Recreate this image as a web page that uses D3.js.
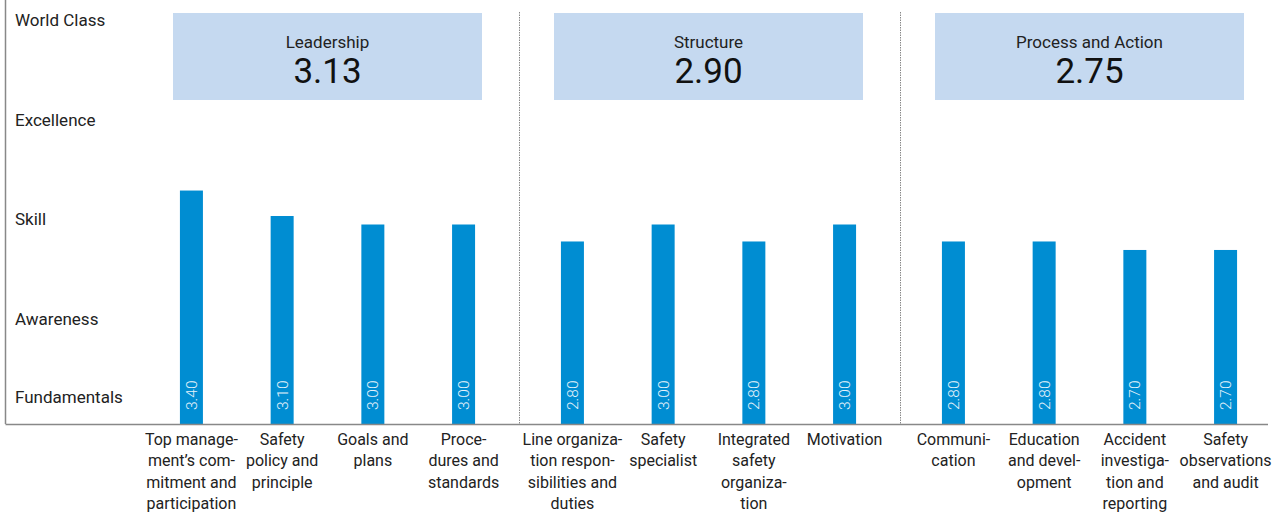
<!DOCTYPE html>
<html>
<head>
<meta charset="utf-8">
<title>Safety culture levels</title>
<script src="https://cdn.jsdelivr.net/npm/d3@7"></script>
<style>
  body { margin: 0; background: #fff; }
  text { font-family: Roboto, "Noto Sans", sans-serif; fill: #222; }
</style>
</head>
<body>
<script>
// levels shown on the left, top to bottom
var levels = ["World Class", "Excellence", "Skill", "Awareness", "Fundamentals"];

var groups = ["Leadership", "Structure", "Process and Action"];
var groupScores = [3.13, 2.90, 2.75];

var categories = [
    "Top management's commitment and participation", "Safety policy and principle",
    "Goals and plans", "Procedures and standards",
    "Line organization responsibilities and duties", "Safety specialist",
    "Integrated safety organization", "Motivation",
    "Communication", "Education and development",
    "Accident investigation and reporting", "Safety observations and audit"
];
var categoryGroup = [0, 0, 0, 0, 1, 1, 1, 1, 2, 2, 2, 2];
var values = [3.40, 3.10, 3.00, 3.00, 2.80, 3.00, 2.80, 3.00, 2.80, 2.80, 2.70, 2.70];

// tick labels, already broken in lines
var tickLabels = [
    ["Top manage-", "ment\u2019s com-", "mitment and", "participation"],
    ["Safety", "policy and", "principle"],
    ["Goals and", "plans"],
    ["Proce-", "dures and", "standards"],
    ["Line organiza-", "tion respon-", "sibilities and", "duties"],
    ["Safety", "specialist"],
    ["Integrated", "safety", "organiza-", "tion"],
    ["Motivation"],
    ["Communi-", "cation"],
    ["Education", "and devel-", "opment"],
    ["Accident", "investiga-", "tion and", "reporting"],
    ["Safety", "observations", "and audit"]
];

var width = 1282, height = 515;
var baseY = 424, axisX = 5.5, plotLeft = 137, plotRight = 1280;
var barWidth = 23;

var svg = d3.select('body').append('svg')
    .attr('width', width)
    .attr('height', height);

// bar value scale
var y = d3.scaleLinear().domain([0.65, 3.0]).range([baseY, 224.5]);
// positions of the level names
var levelY = d3.scalePoint().domain(levels).range([26, baseY]);

var xGroup = d3.scaleBand().domain(groups).range([plotLeft, plotRight]);
var xInner = d3.scalePoint().domain([0, 1, 2, 3]).range([0, xGroup.bandwidth()]).padding(0.6);

function barX(i) {
    var g = categoryGroup[i];
    var inGroup = categoryGroup.slice(0, i).filter(function(d) { return d === g; }).length;
    return xGroup(groups[g]) + xInner(inGroup);
}

// header boxes
var heads = svg.append('g').attr('class', 'heads')
    .selectAll('g').data(groups).enter().append('g');
heads.append('rect')
    .attr('x', function(d) { return xGroup(d) + 36; })
    .attr('y', 13)
    .attr('width', xGroup.bandwidth() - 72)
    .attr('height', 87)
    .attr('fill', '#c5d9f0');
heads.append('text')
    .attr('x', function(d) { return xGroup(d) + xGroup.bandwidth() / 2; })
    .attr('y', 48)
    .attr('text-anchor', 'middle')
    .style('font-size', '17px')
    .text(function(d) { return d; });
heads.append('text')
    .attr('x', function(d) { return xGroup(d) + xGroup.bandwidth() / 2; })
    .attr('y', 83)
    .attr('text-anchor', 'middle')
    .style('font-size', '35px')
    .style('fill', '#111')
    .text(function(d, i) { return groupScores[i].toFixed(2); });

// dotted dividers between groups
svg.append('g').selectAll('line').data(groups.slice(1)).enter().append('line')
    .attr('x1', function(d) { return Math.round(xGroup(d)) + 1.5; })
    .attr('x2', function(d) { return Math.round(xGroup(d)) + 1.5; })
    .attr('y1', 12)
    .attr('y2', baseY)
    .attr('stroke', '#888')
    .attr('stroke-dasharray', '1.5,1');

// level names
svg.append('g').selectAll('text').data(levels).enter().append('text')
    .attr('x', 15)
    .attr('y', function(d) { return Math.min(levelY(d), baseY - 21); })
    .style('font-size', '17px')
    .text(function(d) { return d; });

// bars
svg.append('g').attr('class', 'bars')
    .selectAll('rect').data(values).enter().append('rect')
    .attr('x', function(d, i) { return barX(i) - barWidth / 2; })
    .attr('y', function(d) { return y(d); })
    .attr('width', barWidth)
    .attr('height', function(d) { return baseY - y(d); })
    .attr('fill', '#008dd2');

// value labels inside bars
svg.append('g').selectAll('text').data(values).enter().append('text')
    .attr('transform', function(d, i) { return 'translate(' + (barX(i) + 5.5) + ',' + (baseY - 14) + ') rotate(-90)'; })
    .style('font-size', '15.5px')
    .style('font-weight', 300)
    .style('fill', '#e6f3fb')
    .text(function(d) { return d.toFixed(2); });

// axis lines
svg.append('line')
    .attr('x1', axisX).attr('x2', axisX)
    .attr('y1', 0).attr('y2', baseY)
    .attr('stroke', '#888').attr('stroke-width', 1.5);
svg.append('line')
    .attr('x1', axisX).attr('x2', 1268)
    .attr('y1', baseY + 0.5).attr('y2', baseY + 0.5)
    .attr('stroke', '#888').attr('stroke-width', 1.5);

// category labels
var ticks = svg.append('g').selectAll('text').data(tickLabels).enter().append('text')
    .attr('text-anchor', 'middle')
    .style('font-size', '16px');
ticks.selectAll('tspan').data(function(d, i) { return d.map(function(s) { return { s: s, i: i }; }); })
    .enter().append('tspan')
    .attr('x', function(d) { return barX(d.i); })
    .attr('y', function(d, j) { return 445 + j * 21.3; })
    .text(function(d) { return d.s; });
</script>
</body>
</html>
